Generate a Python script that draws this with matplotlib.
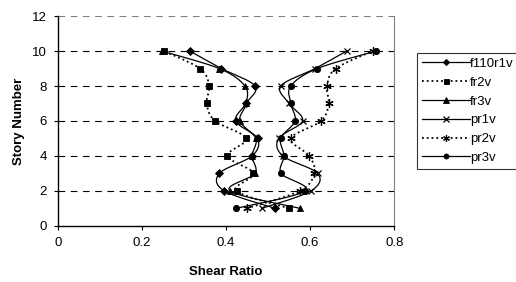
import numpy as np
import matplotlib
matplotlib.use("Agg")
from matplotlib import pyplot as plt

# Story levels and shear ratios
stories = [1, 2, 3, 4, 5, 6, 7, 8, 9, 10]
f110r1v = [0.517, 0.396, 0.384, 0.462, 0.475, 0.423, 0.448, 0.469, 0.389, 0.314]
fr2v = [0.550, 0.425, 0.465, 0.403, 0.448, 0.374, 0.354, 0.360, 0.338, 0.252]
fr3v = [0.576, 0.410, 0.469, 0.462, 0.471, 0.433, 0.448, 0.445, 0.384, 0.247]
pr1v = [0.485, 0.602, 0.618, 0.535, 0.525, 0.582, 0.550, 0.530, 0.612, 0.687]
pr2v = [0.449, 0.575, 0.610, 0.598, 0.554, 0.626, 0.644, 0.640, 0.661, 0.749]
pr3v = [0.424, 0.588, 0.531, 0.538, 0.530, 0.564, 0.554, 0.554, 0.617, 0.757]

names = ['f110r1v', 'fr2v', 'fr3v', 'pr1v', 'pr2v', 'pr3v']
series = [f110r1v, fr2v, fr3v, pr1v, pr2v, pr3v]


def smooth(xs, ys, n=20):
    # Excel style smoothed line: bezier segments with catmull-rom control points
    p = np.column_stack([xs, ys]).astype(float)
    out = [p[0]]
    t = np.linspace(0, 1, n)[1:, None]
    for i in range(len(p) - 1):
        p0 = p[i - 1] if i > 0 else p[i]
        p3 = p[i + 2] if i + 2 < len(p) else p[i + 1]
        c1 = p[i] + (p[i + 1] - p0) / 6.0
        c2 = p[i + 1] - (p3 - p[i]) / 6.0
        seg = ((1 - t) ** 3) * p[i] + 3 * ((1 - t) ** 2) * t * c1 + 3 * (1 - t) * t ** 2 * c2 + t ** 3 * p[i + 1]
        out.extend(seg)
    out = np.array(out)
    return out[:, 0], out[:, 1]


styles = [
    dict(ls='-', marker='D', ms=4),
    dict(ls=':', marker='s', ms=4.5),
    dict(ls='-', marker='^', ms=5),
    dict(ls='-', marker='x', ms=5, mew=0.9),
    dict(ls=':', marker=(6, 2, 0), ms=6, mew=0.9),
    dict(ls='-', marker='o', ms=4.5),
]

fig = plt.figure(figsize=(5.16, 2.82), dpi=100)
ax = fig.add_axes([0.112, 0.199, 0.652, 0.744])

handles = []
for vals, name, st in zip(series, names, styles):
    sx, sy = smooth(vals, stories)
    lw = 1.3 if st['ls'] == ':' else 0.9
    ax.plot(sx, sy, color='black', ls=st['ls'], lw=lw)
    ax.plot(vals, stories, ls='none', color='black', marker=st['marker'],
            ms=st['ms'], mew=st.get('mew', 0.6))
    h, = ax.plot([], [], color='black', ls=st['ls'], lw=lw, marker=st['marker'],
                 ms=st['ms'] * 0.8, mew=st.get('mew', 0.6))
    handles.append(h)

ax.set_xlim(0, 0.8)
ax.set_ylim(0, 12)
ax.set_xticks([0, 0.2, 0.4, 0.6, 0.8])
ax.set_xticklabels(['0', '0.2', '0.4', '0.6', '0.8'])
ax.set_yticks(range(0, 13, 2))
for yv in range(2, 11, 2):
    ax.axhline(yv, color='black', ls=(0, (6, 5)), lw=0.8, zorder=0)
ax.axhline(12, color='#808080', ls=(0, (6, 5)), lw=0.8)
ax.spines['top'].set_visible(False)
ax.spines['right'].set_color('#808080')
ax.spines['left'].set_linewidth(1.0)
ax.spines['bottom'].set_linewidth(1.0)
ax.tick_params(direction='out', length=3, labelsize=9.5, pad=5)

font = {'family': 'Liberation Sans', 'fontweight': 'bold', 'fontsize': 9.5}
ax.set_xlabel('Shear Ratio', labelpad=12, **font)
ax.set_ylabel('Story Number', labelpad=5, **font)
for lab in ax.get_xticklabels() + ax.get_yticklabels():
    lab.set_family('Liberation Sans')

leg = fig.legend(handles, names, loc='upper left', bbox_to_anchor=(0.809, 0.812),
                 frameon=True, fancybox=False, edgecolor='black',
                 prop={'family': 'Liberation Sans', 'size': 9.5},
                 handlelength=3.6, handletextpad=0.05, labelspacing=0.5,
                 borderpad=0.35, borderaxespad=0)
leg.get_frame().set_linewidth(0.8)

fig.savefig('out.png', dpi=100)
